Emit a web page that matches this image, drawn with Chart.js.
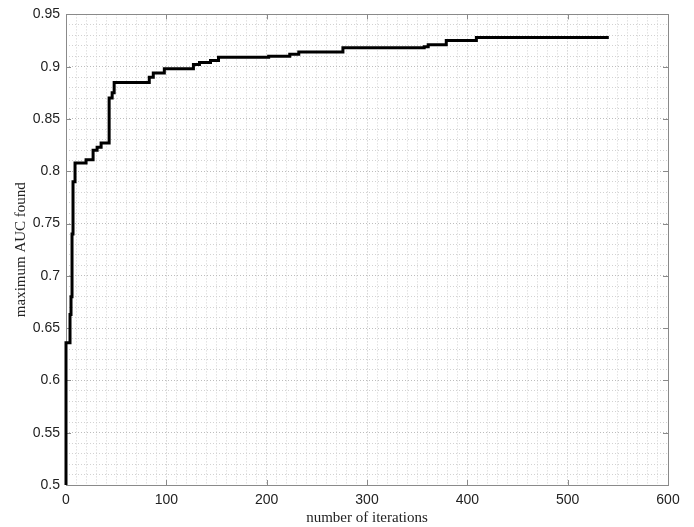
<!DOCTYPE html>
<html>
<head>
<meta charset="utf-8">
<script src="https://cdn.jsdelivr.net/npm/chart.js@4/dist/chart.umd.min.js"></script>
<style>
  html, body { margin: 0; padding: 0; background: #ffffff; }
  #wrap { width: 694px; height: 527px; position: relative; }
</style>
</head>
<body>
<div id="wrap"><canvas id="c" width="694" height="527"></canvas></div>
<script>
// Data (iteration where a new best AUC is reached, best AUC)
const iterations = [0, 0, 4, 5, 6, 7, 9, 20, 27, 31, 35, 43, 46, 48, 83, 87, 98, 127, 133, 144, 152, 202, 223, 232, 276, 357, 361, 379, 409, 541];
const maxAUC     = [0.5, 0.636, 0.663, 0.68, 0.74, 0.79, 0.808, 0.811, 0.82, 0.823, 0.827, 0.87, 0.875, 0.885, 0.89, 0.894, 0.898, 0.902, 0.904, 0.906, 0.909, 0.910, 0.912, 0.914, 0.918, 0.919, 0.921, 0.925, 0.928, 0.928];
const xMajorTicks = [0, 100, 200, 300, 400, 500, 600];
const yMajorTicks = [0.5, 0.55, 0.6, 0.65, 0.7, 0.75, 0.8, 0.85, 0.9, 0.95];
const xTitle = 'number of iterations';
const yTitle = 'maximum AUC found';

const points = iterations.map((x, i) => ({ x: x, y: maxAUC[i] }));

const isMajorX = v => xMajorTicks.some(t => Math.abs(t - v) < 1e-6);
const isMajorY = v => yMajorTicks.some(t => Math.abs(t - v) < 1e-6);

const frameAndTicks = {
  id: 'frameAndTicks',
  beforeDatasetsDraw(chart) {
    const { ctx, chartArea: a, scales } = chart;
    ctx.save();
    ctx.strokeStyle = '#8a8a8a';
    ctx.lineWidth = 1;
    const L = 5;
    ctx.beginPath();
    xMajorTicks.forEach(v => {
      const px = Math.round(scales.x.getPixelForValue(v)) + 0.5;
      ctx.moveTo(px, a.bottom); ctx.lineTo(px, a.bottom - L);
      ctx.moveTo(px, a.top); ctx.lineTo(px, a.top + L);
    });
    yMajorTicks.forEach(v => {
      const py = Math.round(scales.y.getPixelForValue(v)) + 0.5;
      ctx.moveTo(a.left, py); ctx.lineTo(a.left + L, py);
      ctx.moveTo(a.right, py); ctx.lineTo(a.right - L, py);
    });
    ctx.stroke();
    ctx.strokeRect(Math.round(a.left) + 0.5, Math.round(a.top) + 0.5,
                   Math.round(a.right - a.left), Math.round(a.bottom - a.top));
    ctx.restore();
  }
};

new Chart(document.getElementById('c'), {
  type: 'line',
  data: {
    datasets: [{
      data: points,
      borderColor: '#000000',
      borderWidth: 3,
      pointRadius: 0,
      fill: false,
      stepped: true,
      tension: 0,
      clip: 3
    }]
  },
  options: {
    responsive: false,
    animation: false,
    events: [],
    layout: { padding: { top: 10, right: 26, left: 0, bottom: 0 } },
    plugins: { legend: { display: false }, tooltip: { enabled: false } },
    scales: {
      x: {
        type: 'linear',
        min: 0, max: 600,
        afterFit: s => { s.height = 42; },
        ticks: {
          stepSize: 10, autoSkip: false, maxRotation: 0,
          color: '#222222', padding: 7,
          font: { family: 'Liberation Sans, Arial, sans-serif', size: 14 },
          callback: v => isMajorX(v) ? String(Math.round(v)) : ''
        },
        grid: {
          drawTicks: false,
          color: c => isMajorX(c.tick.value) ? '#bdbdbd' : '#d2d2d2',
          lineWidth: 1
        },
        border: { display: false, dash: [1, 2] },
        title: {
          display: true, text: xTitle, color: '#222222', padding: { top: 0, bottom: 0 },
          font: { family: 'Liberation Serif, Times New Roman, serif', size: 15 }
        }
      },
      y: {
        type: 'linear',
        min: 0.5, max: 0.95,
        afterFit: s => { s.width = 66; },
        ticks: {
          stepSize: 0.01, autoSkip: false,
          color: '#222222', padding: 6,
          font: { family: 'Liberation Sans, Arial, sans-serif', size: 14 },
          callback: v => isMajorY(v) ? String(parseFloat(v.toFixed(2))) : ''
        },
        grid: {
          drawTicks: false,
          color: c => isMajorY(c.tick.value) ? '#bdbdbd' : '#d2d2d2',
          lineWidth: 1
        },
        border: { display: false, dash: [1, 2] },
        title: {
          display: true, text: yTitle, color: '#222222', padding: { top: 12, bottom: 0 },
          font: { family: 'Liberation Serif, Times New Roman, serif', size: 15 }
        }
      }
    }
  },
  plugins: [frameAndTicks]
});
</script>
</body>
</html>
